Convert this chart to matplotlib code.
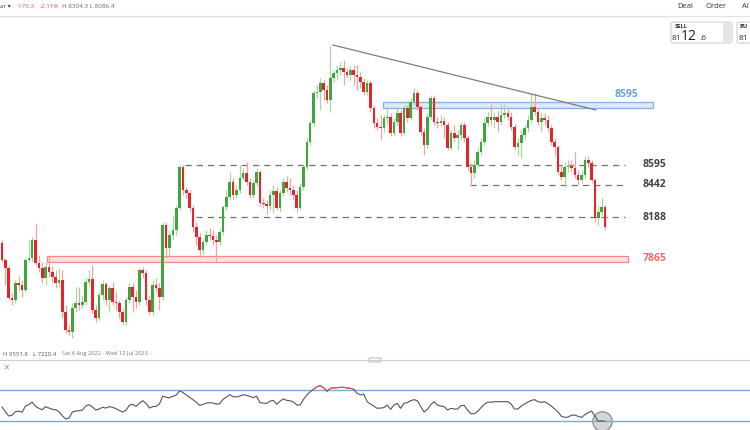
import numpy as np
import matplotlib.pyplot as plt
from matplotlib.patches import Rectangle, FancyBboxPatch
from matplotlib.lines import Line2D

plt.rcParams['font.family'] = ['Open Sans', 'DejaVu Sans']

# daily candles
first_open = 7987
close = [7854, 7792, 7558, 7542, 7675, 7659, 7620, 7854, 7870, 8010,
         7831, 7792, 7714, 7799, 7760, 7721, 7675, 7698, 7448, 7308,
         7292, 7480, 7519, 7503, 7526, 7682, 7706, 7464, 7402, 7581,
         7667, 7542, 7636, 7526, 7519, 7448, 7370, 7542, 7643, 7565,
         7526, 7776, 7753, 7542, 7448, 7659, 7636, 7565, 8127, 7948,
         8049, 8088, 8260, 8579, 8400, 8377, 8260, 8111, 8033, 7932,
         7994, 8049, 8041, 8010, 7994, 8072, 8267, 8345, 8462, 8361,
         8400, 8494, 8533, 8462, 8361, 8455, 8540, 8299, 8291, 8275,
         8361, 8392, 8260, 8377, 8462, 8416, 8400, 8361, 8260, 8423,
         8579, 8774, 8923, 9157, 9164, 9235, 9180, 9102, 9274, 9313,
         9336, 9352, 9320, 9297, 9336, 9297, 9281, 9242, 9164, 9235,
         9040, 8923, 8891, 8884, 8962, 8969, 8845, 8930, 9001, 8845,
         9040, 8962, 9086, 9157, 9047, 8852, 8751, 8969, 9118, 8930,
         8923, 8938, 8907, 8728, 8845, 8806, 8829, 8907, 8806, 8579,
         8533, 8595, 8696, 8774, 8923, 8969, 8946, 8969, 8930, 8985,
         9001, 8969, 8891, 8735, 8767, 8829, 8884, 8946, 9047, 9008,
         8930, 8962, 8946, 8884, 8774, 8735, 8540, 8501, 8579, 8587,
         8572, 8517, 8478, 8517, 8634, 8611, 8478, 8182, 8228, 8267,
         8113]
high = [8010, 7870, 7807, 7597, 7698, 7729, 7698, 7877, 8010, 8033,
        8143, 7893, 7838, 7838, 7877, 7807, 7776, 7792, 7776, 7503,
        7347, 7519, 7643, 7643, 7581, 7714, 7776, 7815, 7503, 7604,
        7698, 7682, 7659, 7682, 7604, 7542, 7480, 7565, 7675, 7675,
        7620, 7792, 7799, 7776, 7581, 7698, 7714, 7675, 8150, 8150,
        8088, 8205, 8283, 8595, 8595, 8423, 8400, 8283, 8150, 8065,
        8026, 8088, 8104, 8088, 8049, 8104, 8283, 8400, 8540, 8494,
        8439, 8595, 8572, 8618, 8494, 8478, 8572, 8556, 8338, 8322,
        8400, 8439, 8423, 8400, 8494, 8509, 8494, 8439, 8400, 8455,
        8595, 8806, 8946, 9180, 9219, 9274, 9258, 9219, 9531, 9336,
        9375, 9398, 9414, 9352, 9367, 9375, 9375, 9320, 9274, 9258,
        9258, 9063, 8962, 8985, 8985, 9047, 9001, 8962, 9040, 9024,
        9063, 9063, 9118, 9196, 9180, 9063, 8884, 9001, 9141, 9141,
        8969, 8985, 8969, 8930, 8868, 8907, 8868, 8930, 8930, 8829,
        8611, 8634, 8728, 8806, 8962, 9008, 9071, 9008, 9024, 9071,
        9071, 9040, 9008, 8915, 8806, 8868, 8907, 8985, 9157, 9157,
        9040, 9008, 9001, 8985, 8907, 8806, 8751, 8595, 8618, 8634,
        8634, 8696, 8556, 8556, 8665, 8665, 8634, 8494, 8275, 8338,
        8283]
low = [7838, 7659, 7542, 7503, 7519, 7620, 7565, 7604, 7838, 7838,
       7815, 7760, 7675, 7659, 7721, 7682, 7636, 7643, 7402, 7285,
       7269, 7246, 7448, 7464, 7480, 7503, 7659, 7441, 7370, 7386,
       7542, 7503, 7448, 7503, 7464, 7402, 7347, 7347, 7519, 7448,
       7480, 7503, 7714, 7503, 7425, 7425, 7604, 7464, 7542, 7870,
       7870, 8010, 8049, 8244, 8361, 8338, 8228, 8072, 7971, 7870,
       7893, 7971, 8010, 7971, 7846, 7971, 8049, 8244, 8322, 8322,
       8338, 8377, 8478, 8439, 8338, 8338, 8431, 8275, 8260, 8213,
       8244, 8228, 8244, 8228, 8353, 8384, 8361, 8322, 8228, 8244,
       8400, 8556, 8751, 8899, 9118, 9024, 9102, 9079, 9008, 9242,
       9258, 9297, 9219, 9274, 9258, 9219, 9180, 9196, 9141, 9141,
       9008, 8884, 8868, 8790, 8852, 8907, 8821, 8829, 8907, 8821,
       8829, 8930, 8946, 9063, 9024, 8829, 8673, 8728, 8946, 8907,
       8884, 8899, 8806, 8712, 8712, 8774, 8712, 8790, 8774, 8556,
       8431, 8494, 8572, 8673, 8751, 8899, 8907, 8884, 8852, 8907,
       8962, 8946, 8868, 8712, 8673, 8650, 8790, 8852, 8923, 8985,
       8907, 8852, 8907, 8852, 8751, 8673, 8517, 8478, 8423, 8540,
       8540, 8494, 8447, 8455, 8494, 8579, 8455, 8150, 8127, 8205,
       8088]
rsi = [47.8, 41.7, 36.1, 37.0, 41.7, 42.6, 40.9, 49.1, 50.9, 54.3,
       48.7, 46.1, 44.3, 48.3, 46.5, 44.8, 44.3, 41.7, 36.5, 32.2,
       33.5, 41.3, 42.6, 43.0, 43.9, 49.1, 50.9, 47.8, 43.9, 45.2,
       47.4, 46.5, 48.3, 47.4, 45.7, 43.5, 41.3, 43.5, 50.0, 51.3,
       48.7, 52.6, 56.1, 52.6, 46.5, 48.3, 48.7, 51.7, 62.2, 60.4,
       60.0, 61.7, 63.5, 68.7, 67.0, 63.5, 60.4, 57.4, 53.9, 50.0,
       51.3, 53.0, 53.5, 53.0, 51.7, 52.2, 57.8, 60.9, 63.9, 61.3,
       60.9, 62.2, 63.9, 63.0, 61.7, 60.0, 62.0, 53.5, 53.0, 52.5,
       55.5, 56.5, 51.5, 55.5, 58.5, 56.5, 56.0, 54.5, 50.5, 50.4,
       57.8, 63.5, 67.8, 70.9, 74.3, 75.7, 73.0, 68.3, 72.2, 72.6,
       73.0, 73.5, 73.5, 72.6, 72.2, 70.9, 65.7, 63.5, 64.8, 54.8,
       51.7, 49.1, 46.1, 46.5, 47.0, 50.4, 44.8, 50.4, 52.6, 46.1,
       52.6, 53.5, 56.1, 57.4, 56.1, 48.3, 41.3, 44.8, 50.9, 54.8,
       50.4, 49.1, 48.3, 43.9, 46.1, 45.2, 45.2, 49.6, 50.0, 43.5,
       39.1, 39.1, 42.2, 47.0, 51.3, 54.3, 53.9, 54.8, 54.8, 54.8,
       54.8, 54.8, 51.7, 45.2, 45.2, 49.1, 51.7, 54.3, 56.5, 57.4,
       54.8, 53.9, 54.8, 52.2, 49.1, 45.2, 41.3, 35.7, 34.3, 34.8,
       37.0, 37.4, 35.7, 34.3, 37.8, 40.4, 42.6, 36.1, 29.4, 29.8,
       29.2]

levels = [8595, 8442, 8188]
resistance_zone = 8595
support_zone = 7865

W, H = 750, 430


def box(x0, y0, x1, y1):
    # pixel box -> figure fraction rect
    return [x0 / W, 1 - y1 / H, (x1 - x0) / W, (y1 - y0) / H]


def ftext(x, y, s, **kw):
    fig.text(x / W, 1 - y / H, s, va='center', **kw)


fig = plt.figure(figsize=(7.5, 4.3), dpi=100)

closes = np.array(close, float)
opens = np.array([first_open] + close[:-1], float)
highs = np.maximum(np.array(high, float), np.maximum(opens, closes))
lows = np.minimum(np.array(low, float), np.minimum(opens, closes))
idx = np.arange(len(closes))
up = closes >= opens

# ---- price panel
ax = fig.add_axes(box(0, 18, 750, 353))
ax.set_xlim(-0.6, 223.3)
ax.set_ylim(7128.6, 9741.6)
ax.axis('off')

wick_cols = np.where(up, '#a8d8a2', '#f4a2a4')
body_cols = np.where(up, '#3fa63f', '#e2262b')
ax.vlines(idx, lows, highs, colors=wick_cols, lw=0.9, zorder=2)
ax.bar(idx, np.maximum(np.abs(closes - opens), 8), bottom=np.minimum(opens, closes),
       width=0.78, color=body_cols, zorder=3)

# zones
ax.add_patch(Rectangle((113.7, 9040), 80.6, 46, facecolor='#dce9f7',
                       edgecolor='#86b1de', lw=0.9, zorder=1))
ax.add_patch(Rectangle((13.4, 7838), 173.5, 47, facecolor='#fbe1e1',
                       edgecolor='#ef8a8a', lw=0.9, zorder=1))
ax.text(183, 9141, str(resistance_zone), color='#6a9fd8', fontsize=7.5,
        fontweight='bold', va='center')
ax.text(191.3, support_zone, str(support_zone), color='#f06b6b', fontsize=7.5,
        fontweight='bold', va='center')

# dashed levels
for lvl, start in zip(levels, [54.6, 139.7, 57.9]):
    ax.plot([start, 186], [lvl, lvl], color='#707070', lw=0.9,
            dashes=(5, 4), zorder=1)
    ax.text(191.3, lvl, str(lvl), color='#444444', fontsize=7.5,
            fontweight='bold', va='center')

# trendline
ax.plot([98.8, 177.3], [9531, 9024], color='#7d7d7d', lw=0.9, zorder=4)

# ---- rsi panel
ax2 = fig.add_axes(box(0, 372, 750, 430))
ax2.set_xlim(-0.6, 223.3)
ax2.set_ylim(17.85, 93.5)
ax2.axis('off')
ax2.axhline(70, color='#7ea7d8', lw=1)
ax2.axhline(30, color='#7ea7d8', lw=1)
ax2.plot(179.2, 29.6, 'o', ms=14, mfc='#d2d2d2', mec='#8c8c8c', mew=1,
         alpha=0.9, zorder=1)
ax2.plot(idx, rsi, color='#555555', lw=0.8, zorder=2)
hot = ax2.plot(idx, rsi, color='#f05050', lw=0.8, zorder=3)[0]
hot.set_clip_path(Rectangle((-1, 70), 230, 40, transform=ax2.transData))
cold = ax2.plot(idx, rsi, color='#3fa63f', lw=0.8, zorder=3)[0]
cold.set_clip_path(Rectangle((-1, 0), 230, 30, transform=ax2.transData))

# ---- top bar
fig.add_artist(Line2D([0, 1], [1 - 16 / H] * 2, color='#e2e2e2', lw=1))
ftext(0, 7, 'ar \u25be', fontsize=4.5, color='#444444')
ftext(17, 7, '-175.3', fontsize=4.5, color='#e05050')
ftext(40, 7, '-2.11%', fontsize=4.5, color='#e05050')
ftext(62, 7, 'H 8304.3 L 8086.4', fontsize=4.5, color='#666666')
ftext(677, 7, 'Deal', fontsize=5.5, color='#333333')
ftext(706, 7, 'Order', fontsize=5.5, color='#333333')
ftext(742, 7, 'Al', fontsize=5.5, color='#333333')

for x0 in [671, 737]:
    fig.add_artist(FancyBboxPatch((x0 / W, 1 - 43 / H), 61 / W, 21 / H,
                                  boxstyle='round,pad=0,rounding_size=0.004',
                                  transform=fig.transFigure, facecolor='white',
                                  edgecolor='#cfcfcf', lw=0.8))
fig.add_artist(Rectangle((723 / W, 1 - 43 / H), 9 / W, 21 / H,
                         transform=fig.transFigure, facecolor='#e4e7ea',
                         edgecolor='none'))
ftext(675, 27, 'SELL', fontsize=4.2, fontweight='bold', color='#333333')
ftext(672, 38, '81', fontsize=6, color='#333333')
ftext(681, 37, '12', fontsize=10, color='#222222')
ftext(699, 38, '.6', fontsize=6, color='#333333')
ftext(740, 27, 'BU', fontsize=4.2, fontweight='bold', color='#333333')
ftext(739, 38, '81', fontsize=6, color='#333333')

# ---- bottom strip
ftext(3, 354, 'H 9551.8', fontsize=4.3, color='#555555')
ftext(33, 354, 'L 7220.4', fontsize=4.3, color='#555555')
ftext(62, 354, 'Sat 6 Aug 2022 - Wed 12 Jul 2023', fontsize=4.1, color='#777777')
fig.add_artist(Line2D([0, 1], [1 - 360 / H] * 2, color='#cfcfcf', lw=0.8))
fig.add_artist(FancyBboxPatch((369 / W, 1 - 362 / H), 12 / W, 4 / H,
                              boxstyle='round,pad=0,rounding_size=0.002',
                              transform=fig.transFigure, facecolor='white',
                              edgecolor='#b5b5b5', lw=0.7))
ftext(3, 368, '\u00d7', fontsize=7, color='#888888')

fig.savefig('out.png', dpi=100)
